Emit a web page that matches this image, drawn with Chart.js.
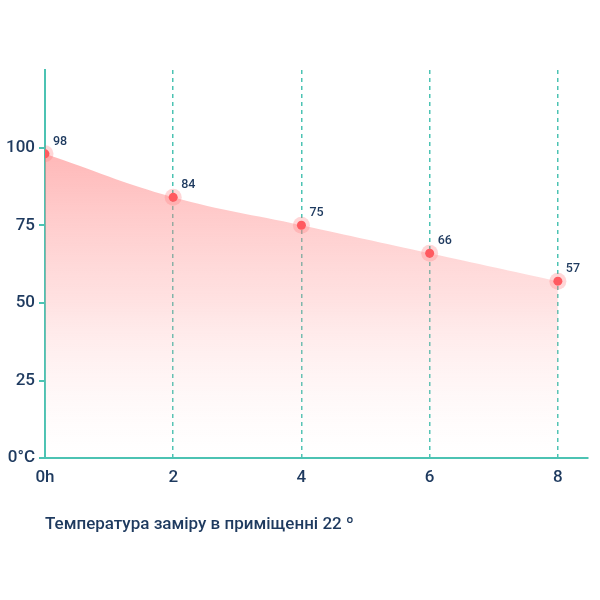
<!DOCTYPE html>
<html>
<head>
<meta charset="utf-8">
<script src="https://cdn.jsdelivr.net/npm/chart.js@4"></script>
<style>
  html,body{margin:0;padding:0;background:#fff;}
  #wrap{width:600px;height:600px;position:relative;}
</style>
</head>
<body>
<div id="wrap"><canvas id="c" width="600" height="600"></canvas></div>
<script>
// temperature drop over hours
const hours=[0,2,4,6,8];
const temps=[98,84,75,66,57];
const yTicks=[0,25,50,75,100];
const caption='Температура заміру в приміщенні 22 º';

const NAVY='#1e3a5f',TEAL='#4cc3b3',RED='#ff5a60';

// little number above-right of each point
const valLabels={
  id:'valLabels',
  afterDatasetsDraw(chart){
    const ctx=chart.ctx;const meta=chart.getDatasetMeta(0);
    ctx.save();
    ctx.font='500 12.5px Roboto';ctx.fillStyle=NAVY;ctx.textAlign='left';ctx.textBaseline='bottom';
    meta.data.forEach((p,i)=>{ctx.fillText(temps[i],p.x+8,p.y-6);});
    ctx.restore();
  }
};

function grad(ctx){
  const ca=ctx.chart.chartArea;if(!ca)return 'rgba(255,120,120,.4)';
  const g=ctx.chart.ctx.createLinearGradient(0,ca.top+75,0,ca.bottom);
  g.addColorStop(0,'rgba(255,120,120,.55)');
  g.addColorStop(0.5,'rgba(255,150,150,.28)');
  g.addColorStop(1,'rgba(255,220,220,0)');
  return g;
}

const pts=hours.map((h,i)=>({x:h,y:temps[i]}));

new Chart(document.getElementById('c'),{
  type:'line',
  data:{datasets:[
    {data:pts,order:1,borderWidth:0,borderColor:'rgba(0,0,0,0)',fill:'origin',backgroundColor:grad,tension:0.4,
      pointRadius:4.5,pointBackgroundColor:RED,pointBorderWidth:0,pointHoverRadius:4.5},
    {data:pts,order:2,showLine:false,fill:false,pointRadius:8.5,pointBackgroundColor:'rgba(255,90,96,.25)',pointBorderWidth:0,pointHoverRadius:8.5}
  ]},
  options:{
    responsive:false,animation:false,
    layout:{padding:{left:2,right:12,top:70,bottom:61}},
    plugins:{legend:{display:false},tooltip:{enabled:false}},
    scales:{
      x:{type:'linear',min:0,max:8.47,
        afterBuildTicks:s=>{s.ticks=hours.map(v=>({value:v}));},
        border:{color:TEAL,width:2,dash:[4,4]},
        grid:{drawTicks:false,color:c=>c.tick&&c.tick.value===0?'rgba(0,0,0,0)':TEAL,lineWidth:1.5},
        ticks:{padding:9,color:NAVY,font:{family:'Roboto',size:17,weight:'500'},callback:v=>v===0?'0h':v},
        title:{display:true,text:caption,align:'start',color:NAVY,font:{family:'Roboto',size:17,weight:'500'},padding:{top:18}}
      },
      y:{min:0,max:125,
        border:{color:TEAL,width:2},
        grid:{drawOnChartArea:false,tickLength:6,color:c=>c.tick&&c.tick.value===125?'rgba(0,0,0,0)':TEAL,lineWidth:2},
        ticks:{stepSize:25,padding:4,color:NAVY,font:{family:'Roboto',size:17,weight:'500'},callback:v=>v===0?'0°C':(yTicks.includes(v)?v:'')}
      }
    }
  },
  plugins:[valLabels]
});
</script>
</body>
</html>
